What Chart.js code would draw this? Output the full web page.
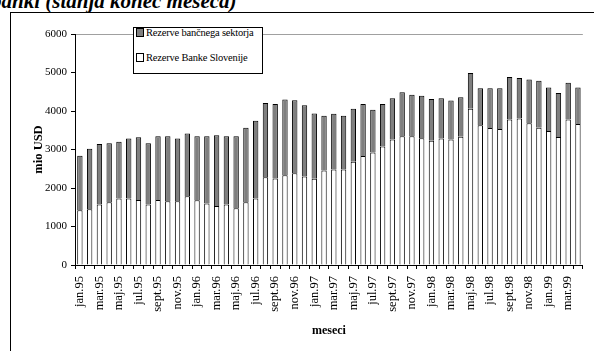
<!DOCTYPE html>
<html>
<head>
<meta charset="utf-8">
<script src="https://cdn.jsdelivr.net/npm/chart.js@4/dist/chart.umd.min.js"></script>
<style>
  html, body { margin: 0; padding: 0; background: #fff; overflow: hidden; width: 594px; height: 351px; }
  #title { position: absolute; left: -9px; top: -9px; font: italic bold 21px/21px 'Liberation Serif', 'Times New Roman', serif; white-space: nowrap; }
  #frame { position: absolute; left: 10px; top: 12px; width: 700px; height: 400px; border: 1px solid #000; }
  #chart { position: absolute; left: 0; top: 0; }
  #legend { position: absolute; left: 133px; top: 27px; width: 128px; height: 45px; border: 1px solid #000; background: #fff;
            font: 10.5px 'Liberation Serif', 'Times New Roman', serif; }
  #legend .item { position: absolute; left: 2px; white-space: nowrap; letter-spacing: -0.2px; }
  #legend .sw { display: inline-block; width: 6px; height: 7px; border: 1px solid #000; margin-right: 2px; vertical-align: -1px; }
</style>
</head>
<body>
<div id="title">banki (stanja konec meseca)</div>
<div id="frame"></div>
<canvas id="chart" width="600" height="351"></canvas>
<div id="legend"></div>
<script>
// months jan.95 - apr.99
const months = [
  'jan.95','feb.95','mar.95','apr.95','maj.95','jun.95','jul.95','avg.95','sept.95','okt.95','nov.95','dec.95',
  'jan.96','feb.96','mar.96','apr.96','maj.96','jun.96','jul.96','avg.96','sept.96','okt.96','nov.96','dec.96',
  'jan.97','feb.97','mar.97','apr.97','maj.97','jun.97','jul.97','avg.97','sept.97','okt.97','nov.97','dec.97',
  'jan.98','feb.98','mar.98','apr.98','maj.98','jun.98','jul.98','avg.98','sept.98','okt.98','nov.98','dec.98',
  'jan.99','feb.99','mar.99','apr.99'
];

// Rezerve Banke Slovenije (mio USD)
const bankaSlovenije = [
  1420, 1450, 1570, 1630, 1725, 1725, 1690, 1570, 1690, 1655, 1655, 1785,
  1680, 1600, 1535, 1570, 1475, 1630, 1725, 2280, 2245, 2330, 2380, 2300,
  2240, 2455, 2480, 2480, 2680, 2830, 2925, 3075, 3260, 3345, 3345, 3295,
  3225, 3285, 3260, 3330, 4060, 3630, 3560, 3535, 3780, 3805, 3685, 3565,
  3480, 3325, 3780, 3660
];

// Rezerve bančnega sektorja (mio USD)
const bancniSektor = [
  1420, 1570, 1570, 1535, 1475, 1560, 1630, 1595, 1655, 1690, 1630, 1630,
  1665, 1745, 1835, 1775, 1870, 1935, 2020, 1925, 1935, 1970, 1900, 1850,
  1695, 1420, 1450, 1395, 1380, 1350, 1110, 1105, 1070, 1140, 1075, 1100,
  1085, 1045, 1010, 1025, 925, 960, 1030, 1055, 1100, 1050, 1135, 1220,
  1130, 1140, 955, 950
];

const yTicks = [0, 1000, 2000, 3000, 4000, 5000, 6000];

const serif = "'Liberation Serif', 'Times New Roman', serif";

const datasets = [
  {
    label: 'Rezerve Banke Slovenije',
    data: bankaSlovenije,
    backgroundColor: '#ffffff',
    borderColor: '#000',
    borderWidth: 1,
    barPercentage: 0.55,
    categoryPercentage: 1
  },
  {
    label: 'Rezerve bančnega sektorja',
    data: bancniSektor,
    backgroundColor: '#7f7f7f',
    borderColor: '#000',
    borderWidth: 1,
    barPercentage: 0.55,
    categoryPercentage: 1
  }
];

new Chart(document.getElementById('chart').getContext('2d'), {
  type: 'bar',
  data: { labels: months, datasets: datasets },
  options: {
    responsive: false,
    animation: false,
    devicePixelRatio: 1,
    layout: { padding: { left: 31, top: 34, right: 5, bottom: 13 } },
    plugins: { legend: { display: false }, tooltip: { enabled: false } },
    scales: {
      x: {
        stacked: true,
        afterFit: (s) => { s.height = 73; },
        grid: { drawOnChartArea: false, tickLength: 4, tickColor: '#000', offset: true },
        border: { color: '#000', width: 1 },
        ticks: {
          autoSkip: false, minRotation: 90, maxRotation: 90, padding: 7,
          color: '#000', font: { family: serif, size: 12.5 },
          callback: (v, i) => (i % 2 === 0 ? months[i] : '')
        },
        title: { display: true, text: 'meseci', color: '#000', padding: 0, font: { family: serif, size: 12, weight: 'bold' } }
      },
      y: {
        stacked: true,
        min: yTicks[0],
        max: yTicks[yTicks.length - 1],
        afterFit: (s) => { s.width = 44; },
        afterBuildTicks: (s) => { s.ticks = yTicks.map((v) => ({ value: v })); },
        grid: {
          color: (c) => (c.tick && c.tick.value === 6000 ? '#a0a0a0' : 'rgba(0,0,0,0)'),
          tickColor: '#000', tickLength: 4
        },
        border: { color: '#000', width: 1 },
        ticks: { padding: 4, color: '#000', font: { family: serif, size: 11 }, callback: (v) => String(v) },
        title: { display: true, text: 'mio USD', color: '#000', padding: 0, font: { family: serif, size: 12.5, weight: 'bold' } }
      }
    }
  }
});

// legend box inside the plot, top series first
const legend = document.getElementById('legend');
[datasets[1], datasets[0]].forEach((d, i) => {
  const it = document.createElement('div');
  it.className = 'item';
  it.style.top = (i === 0 ? -1 : 24) + 'px';
  it.innerHTML = '<span class="sw" style="background:' + d.backgroundColor + '"></span>' + d.label;
  legend.appendChild(it);
});
</script>
</body>
</html>
